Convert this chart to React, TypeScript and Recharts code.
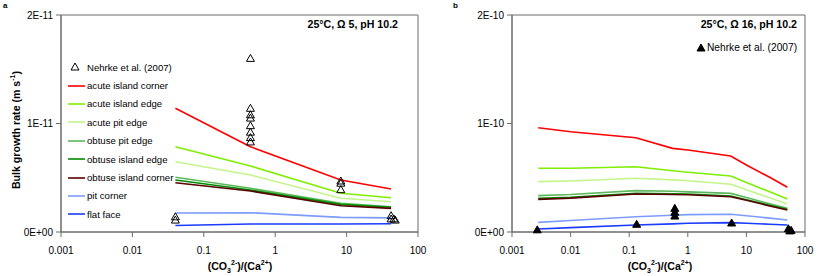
import React from "react";
import { ComposedChart, Line, Scatter, XAxis, YAxis, ReferenceArea } from "recharts";

const FONT = "'Liberation Sans', Arial, sans-serif";
const AXIS = "#6b6b6b";

const xTicks = [0.001, 0.01, 0.1, 1, 10, 100];
const xTickLabels = ["0.001", "0.01", "0.1", "1", "10", "100"];

const seriesNames = [
  "acute island corner",
  "acute island edge",
  "acute pit edge",
  "obtuse pit edge",
  "obtuse island edge",
  "obtuse island corner",
  "pit corner",
  "flat face",
];
const seriesColors = ["#ff0000", "#7fee00", "#c4f58a", "#5cb85c", "#008a00", "#5a0000", "#7c9cff", "#1a3cff"];

// panel a: 25°C, Ω 5 — rates in units of 1E-11 m/s
const ratioA = [0.04, 0.45, 8.3, 42];
const acuteIslandCornerA = [1.14, 0.786, 0.479, 0.396];
const acuteIslandEdgeA = [0.786, 0.608, 0.357, 0.316];
const acutePitEdgeA = [0.648, 0.525, 0.311, 0.279];
const obtusePitEdgeA = [0.505, 0.403, 0.265, 0.233];
const obtuseIslandEdgeA = [0.479, 0.387, 0.255, 0.228];
const obtuseIslandCornerA = [0.454, 0.378, 0.242, 0.218];
const pitCornerA = [0.175, 0.178, 0.135, 0.13];
const flatFaceA = [0.06, 0.074, 0.074, 0.076];
const nehrkeRatioA = [0.04, 0.04, 0.45, 0.45, 0.45, 0.45, 0.45, 0.45, 0.45, 0.45, 8.3, 8.3, 8.3, 42, 42, 46, 48];
const nehrkeRateA = [0.14, 0.11, 1.6, 1.14, 1.08, 1.05, 0.98, 0.92, 0.87, 0.83, 0.47, 0.45, 0.39, 0.15, 0.12, 0.12, 0.11];

// panel b: 25°C, Ω 16 — rates in units of 1E-10 m/s
const ratioB = [0.0028, 0.01, 0.13, 0.55, 1, 5.4, 10, 25, 50];
const acuteIslandCornerB = [0.961, 0.924, 0.869, 0.771, 0.756, 0.7, 0.618, 0.504, 0.412];
const acuteIslandEdgeB = [0.587, 0.587, 0.602, 0.565, 0.55, 0.516, 0.457, 0.37, 0.304];
const acutePitEdgeB = [0.464, 0.47, 0.495, 0.48, 0.473, 0.44, 0.39, 0.315, 0.258];
const obtusePitEdgeB = [0.335, 0.345, 0.381, 0.375, 0.37, 0.356, 0.318, 0.26, 0.218];
const obtuseIslandEdgeB = [0.31, 0.32, 0.356, 0.352, 0.35, 0.332, 0.298, 0.247, 0.209];
const obtuseIslandCornerB = [0.301, 0.312, 0.35, 0.345, 0.343, 0.325, 0.293, 0.24, 0.203];
const pitCornerB = [0.089, 0.106, 0.141, 0.155, 0.16, 0.163, 0.15, 0.128, 0.111];
const flatFaceB = [0.028, 0.04, 0.065, 0.075, 0.08, 0.086, 0.08, 0.072, 0.065];
const nehrkeRatioB = [0.0027, 0.134, 0.6, 0.6, 0.6, 5.6, 52, 55, 58];
const nehrkeRateB = [0.02, 0.071, 0.218, 0.182, 0.147, 0.083, 0.03, 0.01, 0.015];

const toPoints = (xs: number[], ys: number[]) => xs.map((x, i) => ({ x, y: ys[i] }));

const linesA = [
  acuteIslandCornerA, acuteIslandEdgeA, acutePitEdgeA, obtusePitEdgeA,
  obtuseIslandEdgeA, obtuseIslandCornerA, pitCornerA, flatFaceA,
];
const linesB = [
  acuteIslandCornerB, acuteIslandEdgeB, acutePitEdgeB, obtusePitEdgeB,
  obtuseIslandEdgeB, obtuseIslandCornerB, pitCornerB, flatFaceB,
];

const Triangle = (props: any) => {
  const { cx, cy, filled } = props;
  if (cx == null || cy == null) return null;
  return (
    <polygon
      points={`${cx},${cy - 4} ${cx - 4},${cy + 3} ${cx + 4},${cy + 3}`}
      fill={filled ? "#000" : "none"}
      stroke="#000"
      strokeWidth={1}
    />
  );
};

interface PanelProps {
  left: number;
  width: number;
  yAxisWidth: number;
  exp: string;
  xs: number[];
  lines: number[][];
  nx: number[];
  ny: number[];
  filled: boolean;
}

function Panel({ left, width, yAxisWidth, exp, xs, lines, nx, ny, filled }: PanelProps) {
  return (
    <div style={{ position: "absolute", left, top: 0 }}>
      <ComposedChart width={width} height={276} margin={{ top: 15, right: 12, bottom: 14, left: 0 }}>
        <XAxis
          dataKey="x"
          type="number"
          scale="log"
          domain={[0.001, 100]}
          allowDataOverflow
          ticks={xTicks}
          interval={0}
          tickFormatter={(v: number) => xTickLabels[xTicks.indexOf(v)] ?? String(v)}
          tick={{ fontSize: 10, fill: "#000" }}
          tickSize={5}
          tickMargin={10}
          height={30}
          axisLine={{ stroke: AXIS }}
          tickLine={{ stroke: AXIS }}
        />
        <YAxis
          type="number"
          domain={[0, 2]}
          ticks={[0, 1, 2]}
          interval={0}
          tickFormatter={(v: number) => (v === 0 ? "0E+00" : `${v}E-${exp}`)}
          tick={{ fontSize: 10, fill: "#000" }}
          tickSize={5}
          tickMargin={3}
          width={yAxisWidth}
          axisLine={{ stroke: AXIS }}
          tickLine={{ stroke: AXIS }}
        />
        <ReferenceArea x1={0.001} x2={100} y1={0} y2={2} fill="none" stroke={AXIS} strokeWidth={1} />
        {lines.map((ys, i) => (
          <Line
            key={seriesNames[i]}
            data={toPoints(xs, ys)}
            dataKey="y"
            name={seriesNames[i]}
            stroke={seriesColors[i]}
            strokeWidth={1.6}
            dot={false}
            type="linear"
            isAnimationActive={false}
          />
        ))}
        <Scatter
          data={toPoints(nx, ny)}
          dataKey="y"
          name="Nehrke et al. (2007)"
          shape={(p: any) => <Triangle {...p} filled={filled} />}
          isAnimationActive={false}
        />
      </ComposedChart>
    </div>
  );
}

const abs = (l: number, t: number, extra: React.CSSProperties = {}): React.CSSProperties => ({
  position: "absolute",
  left: l,
  top: t,
  whiteSpace: "nowrap",
  ...extra,
});

export default function App() {
  return (
    <div
      style={{
        position: "absolute",
        left: 0,
        top: 0,
        width: 817,
        height: 276,
        background: "#fff",
        fontFamily: FONT,
        color: "#000",
        overflow: "hidden",
      }}
    >
      <Panel left={0} width={430} yAxisWidth={61} exp="11" xs={ratioA} lines={linesA} nx={nehrkeRatioA} ny={nehrkeRateA} filled={false} />
      <Panel left={440} width={377} yAxisWidth={72} exp="10" xs={ratioB} lines={linesB} nx={nehrkeRatioB} ny={nehrkeRateB} filled={true} />

      {/* panel letters */}
      <div style={abs(3, 1, { fontSize: 8, fontWeight: "bold" })}>a</div>
      <div style={abs(453, 1, { fontSize: 8, fontWeight: "bold" })}>b</div>

      {/* titles */}
      <div style={abs(198, 18, { width: 200, textAlign: "right", fontSize: 10.6, fontWeight: "bold" })}>
        25°C, Ω 5, pH 10.2
      </div>
      <div style={abs(597, 18, { width: 200, textAlign: "right", fontSize: 10.6, fontWeight: "bold" })}>
        25°C, Ω 16, pH 10.2
      </div>

      {/* legend panel a */}
      <div style={abs(66, 58, { fontSize: 9.6 })}>
        <div style={{ height: 18.4, display: "flex", alignItems: "center" }}>
          <svg width={20} height={10} style={{ marginRight: 1 }}>
            <polygon points="9,1 5,8 13,8" fill="none" stroke="#000" strokeWidth={1} />
          </svg>
          <span>Nehrke et al. (2007)</span>
        </div>
        {seriesNames.map((n, i) => (
          <div key={n} style={{ height: 18.4, display: "flex", alignItems: "center" }}>
            <svg width={20} height={10} style={{ marginRight: 1 }}>
              <line x1={2} x2={19} y1={5} y2={5} stroke={seriesColors[i]} strokeWidth={1.6} />
            </svg>
            <span>{n}</span>
          </div>
        ))}
      </div>

      {/* legend panel b */}
      <div style={abs(696, 40, { fontSize: 10.2, display: "flex", alignItems: "center", height: 15 })}>
        <svg width={10} height={10} style={{ marginRight: 1 }}>
          <polygon points="5,1 1,8 9,8" fill="#000" stroke="#000" strokeWidth={1} />
        </svg>
        <span>Nehrke et al. (2007)</span>
      </div>

      {/* y label */}
      <div
        style={abs(-87, 122, {
          width: 200,
          textAlign: "center",
          fontSize: 10.6,
          fontWeight: "bold",
          transform: "rotate(-90deg)",
          transformOrigin: "100px 8px",
          lineHeight: "16px",
        })}
      >
        Bulk growth rate (m s<sup style={{ fontSize: 7 }}>-1</sup>)
      </div>

      {/* x labels */}
      <div style={abs(140, 255, { width: 200, textAlign: "center", fontSize: 10.6, fontWeight: "bold", lineHeight: "16px" })}>
        (CO<sub style={{ fontSize: 7 }}>3</sub>
        <sup style={{ fontSize: 7 }}>2-</sup>)/(Ca<sup style={{ fontSize: 7 }}>2+</sup>)
      </div>
      <div style={abs(560, 255, { width: 200, textAlign: "center", fontSize: 10.6, fontWeight: "bold", lineHeight: "16px" })}>
        (CO<sub style={{ fontSize: 7 }}>3</sub>
        <sup style={{ fontSize: 7 }}>2-</sup>)/(Ca<sup style={{ fontSize: 7 }}>2+</sup>)
      </div>
    </div>
  );
}
